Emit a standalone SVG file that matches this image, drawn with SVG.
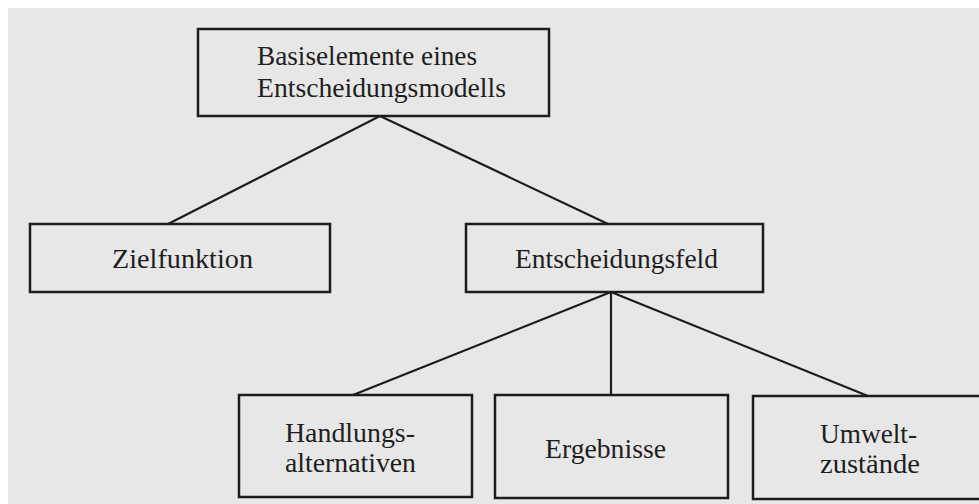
<svg xmlns="http://www.w3.org/2000/svg" width="979" height="504" viewBox="0 0 979 504">
<style>
.box{fill:none;stroke:#1c1c1c;stroke-width:2.5}
.con line{stroke:#1c1c1c;stroke-width:2.2}
text{font-family:"Liberation Serif","DejaVu Serif",serif;fill:#1e1e1e;font-size:28px}
</style>
<rect width="979" height="504" fill="#ffffff"/>
<rect x="8" y="8" width="971" height="496" fill="#e7e7e7"/>
<g class="con">
<line x1="380" y1="116" x2="168" y2="224"/>
<line x1="380" y1="116" x2="608" y2="224"/>
<line x1="611" y1="292" x2="353" y2="395"/>
<line x1="611" y1="292" x2="611" y2="395"/>
<line x1="611" y1="292" x2="868" y2="396"/>
</g>
<g id="basis">
<rect class="box" x="198" y="29" width="351" height="87"/>
<text x="257" y="65" textLength="220" lengthAdjust="spacingAndGlyphs">Basiselemente eines</text>
<text x="257" y="97" textLength="249" lengthAdjust="spacingAndGlyphs">Entscheidungsmodells</text>
</g>
<g id="zielfunktion">
<rect class="box" x="30" y="224" width="300" height="68"/>
<text x="112" y="268" textLength="141" lengthAdjust="spacingAndGlyphs">Zielfunktion</text>
</g>
<g id="entscheidungsfeld">
<rect class="box" x="466" y="224" width="297" height="68"/>
<text x="515" y="268" textLength="203" lengthAdjust="spacingAndGlyphs">Entscheidungsfeld</text>
</g>
<g id="handlungsalternativen">
<rect class="box" x="239" y="395" width="233" height="102"/>
<text x="285" y="442" textLength="130" lengthAdjust="spacingAndGlyphs">Handlungs-</text>
<text x="285" y="472" textLength="131" lengthAdjust="spacingAndGlyphs">alternativen</text>
</g>
<g id="ergebnisse">
<rect class="box" x="495" y="395" width="233" height="103"/>
<text x="545" y="458" textLength="121" lengthAdjust="spacingAndGlyphs">Ergebnisse</text>
</g>
<g id="umweltzustaende">
<rect class="box" x="753" y="396" width="260" height="103"/>
<text x="820" y="443" textLength="97" lengthAdjust="spacingAndGlyphs">Umwelt-</text>
<text x="820" y="473" textLength="100" lengthAdjust="spacingAndGlyphs">zustände</text>
</g>
</svg>
